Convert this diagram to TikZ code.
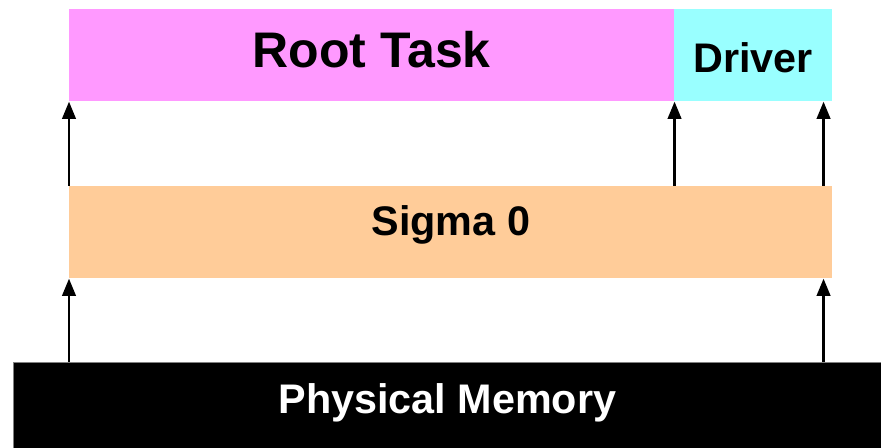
\documentclass[tikz,border=0pt]{standalone}
\usepackage{fontspec}
\setmainfont{Liberation Sans}
\usepackage{xcolor}
\usetikzlibrary{arrows.meta}
\definecolor{rootpink}{HTML}{FF99FF}
\definecolor{drvcyan}{HTML}{99FFFF}
\definecolor{sigpeach}{HTML}{FFCC99}

\begin{document}
\begin{tikzpicture}[x=0.75pt,y=-0.75pt,>={Triangle[length=13pt,width=10pt]},
  blk/.style={anchor=north west,inner sep=0pt,minimum height=69pt,font=\bfseries\fontsize{31}{34}\selectfont},
  up/.style={->,line width=2.2pt}]
\useasboundingbox (0,0) rectangle (881,448);
\node[blk,fill=rootpink,minimum width=453.75pt,text height=27pt,text depth=9pt,
  font=\bfseries\fontsize{37.5}{40}\selectfont](root) at (69,9){Root Task};
\node[blk,fill=drvcyan,minimum width=118.5pt,text height=25.5pt,text depth=0pt](drv) at (674,9){Driver};
\node[blk,fill=sigpeach,minimum width=572.25pt,text height=22pt,text depth=17.5pt](sig) at (69,186){Sigma 0};
\node[blk,fill=black,draw=gray,line width=0.6pt,text=white,minimum width=651pt,minimum height=64.5pt,
  text height=22pt,text depth=10pt](mem) at (13,362){Physical Memory};
% arrows between layers
\draw[up](sig.north west)--(root.south west);
\draw[up](sig.north -| root.south east)--(root.south east);
\draw[up]([xshift=-6.75pt]sig.north east)--([xshift=-6.75pt]drv.south east);
\draw[up](mem.north -| sig.south west)--(sig.south west);
\draw[up]([xshift=-6.75pt]mem.north -| sig.south east)--([xshift=-6.75pt]sig.south east);
\end{tikzpicture}
\end{document}
